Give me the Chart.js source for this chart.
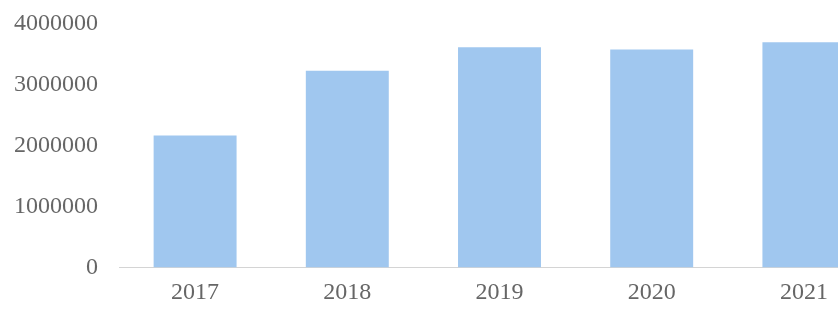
<!DOCTYPE html>
<html><head><meta charset="utf-8">
<script src="https://cdn.jsdelivr.net/npm/chart.js@4/dist/chart.umd.min.js"></script>
<style>html,body{margin:0;padding:0;background:#fff;overflow:hidden;width:838px;height:309px}canvas{display:block}</style>
</head><body>
<canvas id="c" width="880" height="309"></canvas>
<script>
const categories = ['2017','2018','2019','2020','2021'];
const values = [2170000, 3230000, 3620000, 3580000, 3700000];
const yTicks = [0, 1000000, 2000000, 3000000, 4000000];

new Chart(document.getElementById('c'), {
  type: 'bar',
  data: { labels: categories, datasets: [{ data: values, backgroundColor: 'rgb(160,199,239)', borderWidth: 0, categoryPercentage: 1, barPercentage: 0.545 }] },
  options: {
    responsive: false, animation: false,
    layout: { padding: { top: 24, right: 0, bottom: 2, left: 0 } },
    plugins: { legend: { display: false }, tooltip: { enabled: false } },
    scales: {
      x: {
        afterFit: s => { s.height = 39.5; s.paddingLeft = 0; s.paddingRight = 0; },
        grid: { display: false, drawTicks: false },
        border: { display: true, color: '#d4d4d4', width: 1 },
        ticks: { color: '#666', font: { family: 'Liberation Serif', size: 24 }, padding: 11, maxRotation: 0 }
      },
      y: {
        min: 0, max: 4000000,
        afterBuildTicks: s => { s.ticks = yTicks.map(v => ({ value: v })); },
        afterFit: s => { s.width = 119; s.paddingTop = 0; s.paddingBottom = 0; },
        grid: { display: false, drawTicks: false },
        border: { display: false },
        ticks: { color: '#666', font: { family: 'Liberation Serif', size: 24 }, padding: 21, callback: v => String(v) }
      }
    }
  }
});
</script>
</body></html>
